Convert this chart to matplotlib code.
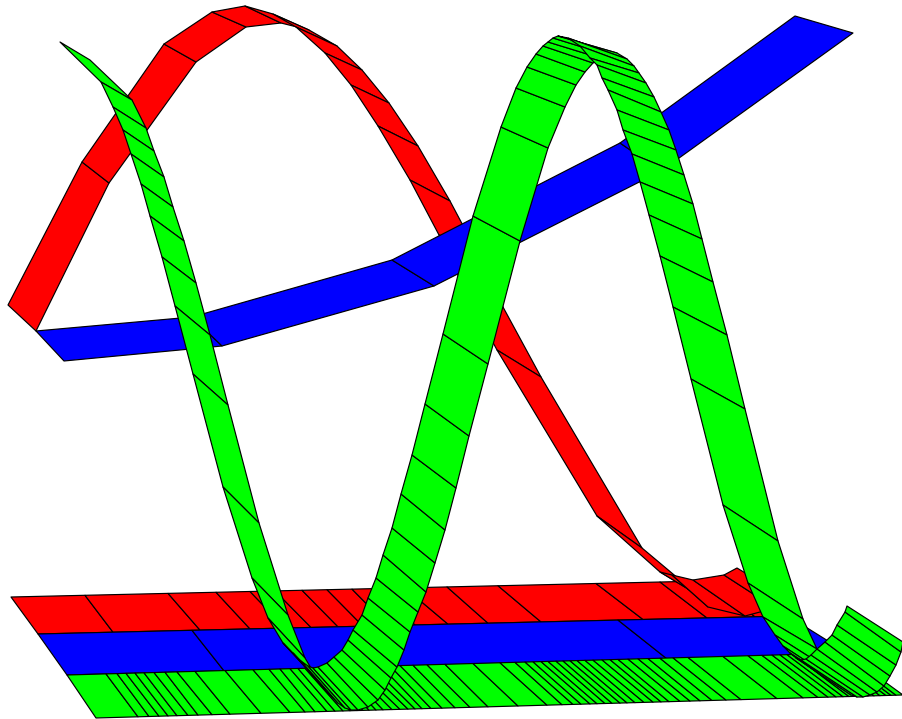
import numpy as np
import matplotlib
matplotlib.use("Agg")
import matplotlib.pyplot as plt
from matplotlib.collections import PolyCollection

# Ribbons: one pair of points per cross line
red_a_x = [8, 82, 164, 212, 245, 273, 296, 325, 351, 378, 410, 439, 466, 497, 597, 660, 672, 693, 724, 737]
red_a_y = [305, 162, 44, 12, 6, 14, 27, 53, 85, 126, 180, 235, 292, 350, 516, 572, 575, 580, 575, 568]
red_b_x = [36, 109, 196, 246, 281, 309, 337, 362, 389, 418, 450, 476, 503, 541, 642, 698, 708, 745, 775, 790]
red_b_y = [331, 183, 62, 27, 23, 30, 46, 70, 103, 146, 201, 250, 307, 377, 548, 595, 607, 616, 608, 600]

blue_a_x = [36, 192, 392, 620, 795]
blue_a_y = [331, 317, 260, 143, 16]
blue_b_x = [64, 222, 434, 661, 853]
blue_b_y = [361, 346, 286, 171, 33]

green_a_x = [60, 101, 113, 123, 131, 141, 150, 162, 175, 193, 223, 252, 268, 283, 293, 301, 308, 313,
             318, 327, 334, 342, 348, 353, 362, 368, 376, 383, 392, 401, 412, 425, 443, 473, 501, 516,
             527, 536, 543, 548, 553, 558, 568, 580, 590, 597, 602, 608, 617, 623, 632, 640, 649, 660,
             673, 691, 723, 748, 763, 775, 783, 790, 796, 801, 806, 811, 817, 825, 832, 837, 845, 847]
green_a_y = [42, 82, 107, 130, 154, 184, 216, 257, 306, 374, 487, 578, 618, 643, 653, 661, 666, 668,
             667, 663, 657, 650, 640, 630, 615, 598, 578, 555, 528, 494, 455, 404, 334, 216, 127, 88,
             67, 54, 46, 42, 38, 36, 38, 46, 58, 65, 78, 90, 110, 130, 154, 182, 215, 256,
             307, 379, 505, 583, 617, 635, 646, 653, 658, 660, 659, 655, 649, 642, 635, 625, 612, 606]
green_b_x = [90, 132, 146, 154, 164, 173, 184, 196, 210, 228, 259, 288, 305, 320, 330, 338, 345, 351,
             358, 368, 378, 385, 391, 397, 404, 410, 418, 426, 435, 445, 456, 469, 488, 520, 548, 565,
             576, 585, 593, 600, 608, 617, 627, 634, 639, 646, 654, 661, 669, 676, 684, 693, 702, 713,
             727, 745, 778, 803, 817, 830, 838, 845, 851, 857, 863, 870, 877, 884, 890, 896, 901, 903]
green_b_y = [60, 100, 128, 151, 177, 207, 241, 283, 335, 405, 523, 615, 658, 683, 695, 703, 708, 710,
             710, 707, 700, 690, 678, 667, 650, 632, 612, 592, 563, 530, 488, 436, 364, 241, 148, 107,
             85, 72, 63, 58, 55, 53, 59, 66, 73, 83, 97, 112, 130, 150, 175, 204, 239, 282,
             335, 409, 541, 619, 649, 670, 682, 689, 695, 697, 697, 695, 692, 686, 676, 665, 652, 642]

# Flat strips on the floor: x of each cross line on the back and front edge
red_floor_back = [11, 85, 168, 216, 250, 275, 302, 327, 352, 378, 405, 447, 498, 596, 660, 708, 747]
red_floor_front = [38, 113, 200, 250, 285, 311, 338, 363, 388, 415, 448, 488, 541, 643, 707, 755, 788]
blue_floor_back = [38, 192, 618, 788]
blue_floor_front = [67, 224, 667, 849]
green_floor_back = [67, 106, 117, 126, 135, 144, 154, 165, 177, 195, 225, 253, 269, 280, 290, 298, 305,
                    312, 318, 324, 330, 336, 342, 349, 356, 364, 372, 381, 390, 400, 413, 427, 445, 473,
                    500, 515, 525, 533, 541, 548, 556, 563, 570, 577, 585, 593, 602, 610, 618, 628, 638,
                    648, 660, 673, 688, 723, 748, 762, 772, 780, 787, 793, 800, 806, 812, 818, 824, 830,
                    835, 840, 845]
green_floor_front = [96, 138, 149, 159, 168, 177, 188, 198, 212, 230, 261, 290, 305, 315, 327, 335, 343,
                     350, 357, 363, 369, 376, 383, 392, 400, 408, 415, 422, 431, 442, 455, 470, 488, 518,
                     547, 562, 573, 581, 590, 597, 605, 612, 620, 627, 635, 644, 653, 661, 669, 680, 690,
                     700, 712, 726, 741, 777, 803, 818, 828, 836, 843, 849, 856, 862, 868, 874, 880, 886,
                     891, 896, 903]

# Edge heights of the floor strips (left and right end of each straight edge)
red_back_y = [597, 580]
red_front_y = [634, 616]
blue_back_y = [634, 616]
blue_front_y = [675, 654]
green_back_y = [675, 653]
green_front_y = [718, 695]


def ribbon(ax, ax_, ay, bx, by, color):
    quads = []
    for i in range(len(ax_) - 1):
        quads.append([(ax_[i], ay[i]), (bx[i], by[i]), (bx[i + 1], by[i + 1]), (ax_[i + 1], ay[i + 1])])
    ax.add_collection(PolyCollection(quads, facecolors=color, edgecolors="black", linewidths=0.85))


def floor(ax, back, front, back_y, front_y, color):
    by = np.interp(back, [back[0], back[-1]], back_y)
    fy = np.interp(front, [front[0], front[-1]], front_y)
    ribbon(ax, back, by, front, fy, color)


fig = plt.figure(figsize=(9.03, 7.19), dpi=100)
ax = fig.add_axes([0, 0, 1, 1])

floor(ax, red_floor_back, red_floor_front, red_back_y, red_front_y, "#ff0000")
floor(ax, blue_floor_back, blue_floor_front, blue_back_y, blue_front_y, "#0000ff")
floor(ax, green_floor_back, green_floor_front, green_back_y, green_front_y, "#00ff00")

ribbon(ax, red_a_x, red_a_y, red_b_x, red_b_y, "#ff0000")
ribbon(ax, blue_a_x, blue_a_y, blue_b_x, blue_b_y, "#0000ff")
ribbon(ax, green_a_x, green_a_y, green_b_x, green_b_y, "#00ff00")

ax.set_xlim(0, 903)
ax.set_ylim(719, 0)
ax.axis("off")

fig.savefig("out.png", dpi=100)
plt.close()
